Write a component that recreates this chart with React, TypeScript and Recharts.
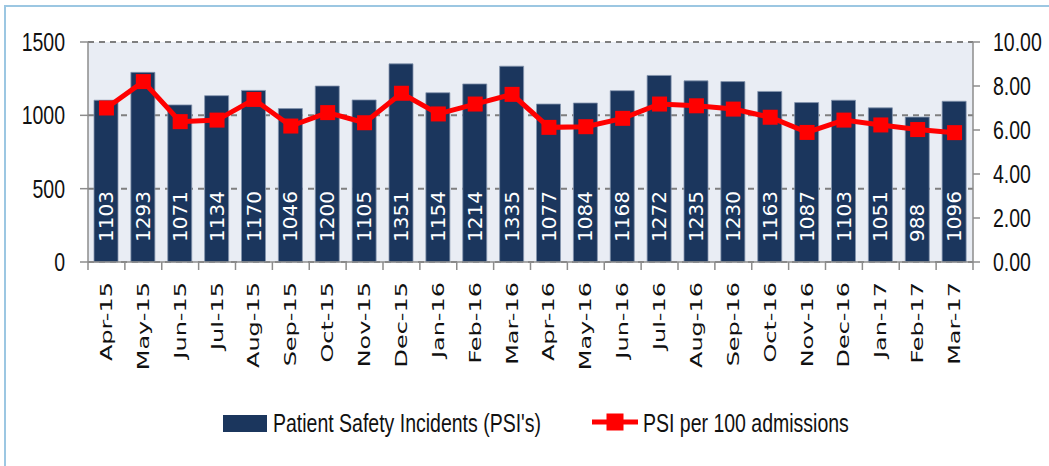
import { ComposedChart, Bar, Line, XAxis, YAxis, CartesianGrid, Legend, LabelList } from 'recharts';

const MONTHS = [
  'Apr-15', 'May-15', 'Jun-15', 'Jul-15', 'Aug-15', 'Sep-15', 'Oct-15', 'Nov-15', 'Dec-15', 'Jan-16', 'Feb-16', 'Mar-16',
  'Apr-16', 'May-16', 'Jun-16', 'Jul-16', 'Aug-16', 'Sep-16', 'Oct-16', 'Nov-16', 'Dec-16', 'Jan-17', 'Feb-17', 'Mar-17',
];
const INCIDENTS = [
  1103, 1293, 1071, 1134, 1170, 1046, 1200, 1105, 1351, 1154, 1214, 1335,
  1077, 1084, 1168, 1272, 1235, 1230, 1163, 1087, 1103, 1051, 988, 1096,
];
const PSI_RATE = [
  7.0, 8.2, 6.38, 6.45, 7.39, 6.18, 6.79, 6.33, 7.67, 6.73, 7.18, 7.62,
  6.12, 6.15, 6.53, 7.18, 7.1, 6.95, 6.58, 5.89, 6.45, 6.23, 6.02, 5.88,
];
const LEFT_TICKS = [0, 500, 1000, 1500];
const RIGHT_TICKS = [0, 2, 4, 6, 8, 10];
const BAR_NAME = "Patient Safety Incidents (PSI's)";
const LINE_NAME = 'PSI per 100 admissions';

const data = MONTHS.map((month, i) => ({ month, incidents: INCIDENTS[i], rate: PSI_RATE[i] }));

const W = 1049;
const H = 466;
const PLOT_LEFT = 88;
const PLOT_RIGHT = 973;
const BAND = (PLOT_RIGHT - PLOT_LEFT) / MONTHS.length;
const AXIS = '#8c8c8c';
const NAVY = '#1b365d';
const RED = '#ff0000';
const NARROW = { fontFamily: '"Liberation Sans", Arial, sans-serif', fontSize: 25 };
const WIDE = '"DejaVu Sans", Verdana, sans-serif';

function MonthTick({ x, y, payload, index }: any) {
  const half = BAND / 2;
  return (
    <g>
      <line x1={x - half} x2={x - half} y1={y} y2={y + 8} stroke={AXIS} strokeWidth={1.5} />
      {index === MONTHS.length - 1 && (
        <line x1={x + half} x2={x + half} y1={y} y2={y + 8} stroke={AXIS} strokeWidth={1.5} />
      )}
      <text
        transform={`translate(${x},${y + 20}) rotate(-90) scale(1.5,1)`}
        textAnchor="end"
        dominantBaseline="central"
        fontFamily={WIDE}
        fontSize={16}
        fill="#111"
      >
        {payload.value}
      </text>
    </g>
  );
}

function LeftTick({ x, y, payload }: any) {
  return (
    <g transform={`translate(${x - 15},${y + 9}) scale(0.78,1)`}>
      <text textAnchor="end" {...NARROW} fill="#111">{payload.value}</text>
    </g>
  );
}

function RightTick({ x, y, payload }: any) {
  return (
    <g transform={`translate(${x + 13},${y + 9}) scale(0.78,1)`}>
      <text textAnchor="start" {...NARROW} fill="#111">{Number(payload.value).toFixed(2)}</text>
    </g>
  );
}

function BarValue({ x, y, width, height, value }: any) {
  const cx = x + width / 2;
  const bottom = y + height - 20;
  return (
    <text
      transform={`translate(${cx},${bottom}) rotate(-90)`}
      textAnchor="start"
      dominantBaseline="central"
      fontFamily={WIDE}
      fontSize={20}
      fill="#fff"
    >
      {value}
    </text>
  );
}

function SquareDot({ cx, cy }: any) {
  if (cx == null || cy == null) return null;
  return <rect x={cx - 7.5} y={cy - 7.5} width={15} height={15} fill={RED} />;
}

function LegendBox({ payload }: any) {
  const items = payload || [];
  const barItem = items.find((p: any) => p.dataKey === 'incidents');
  const lineItem = items.find((p: any) => p.dataKey === 'rate');
  return (
    <svg width={W} height={40} style={{ display: 'block' }}>
      <rect x={223} y={12} width={44} height={17} fill={NAVY} />
      <g transform="translate(273,29) scale(0.78,1)">
        <text {...NARROW} fill="#111">{barItem ? barItem.value : BAR_NAME}</text>
      </g>
      <line x1={592} x2={638} y1={19} y2={19} stroke={RED} strokeWidth={5} />
      <rect x={606.5} y={10.5} width={17} height={17} fill={RED} />
      <g transform="translate(643,29) scale(0.78,1)">
        <text {...NARROW} fill="#111">{lineItem ? lineItem.value : LINE_NAME}</text>
      </g>
    </svg>
  );
}

export default function App() {
  return (
    <div style={{ position: 'absolute', left: 0, top: 0, width: W, height: H, overflow: 'hidden', background: '#fff' }}>
      <div
        style={{
          position: 'absolute', left: 4, top: 5, width: W + 100, height: H + 100,
          border: '2px solid #9cc7e2', boxSizing: 'border-box',
        }}
      />
      <div style={{ position: 'absolute', left: 0, top: 0 }}>
        <ComposedChart width={W} height={H} data={data} margin={{ top: 42, right: 0, bottom: 23, left: 0 }}>
          <CartesianGrid
            yAxisId="left"
            vertical={false}
            fill="#e9edf4"
            fillOpacity={1}
            stroke="#7f7f7f"
            strokeWidth={2}
            strokeDasharray="6 5"
          />
          <XAxis
            dataKey="month"
            interval={0}
            height={141}
            tickSize={0}
            tickMargin={0}
            tickLine={false}
            axisLine={{ stroke: AXIS, strokeWidth: 1.5 }}
            tick={<MonthTick />}
          />
          <YAxis
            yAxisId="left"
            width={88}
            domain={[0, 1500]}
            ticks={LEFT_TICKS}
            tickSize={8}
            tickMargin={0}
            tickLine={{ stroke: AXIS, strokeWidth: 1.5 }}
            axisLine={{ stroke: AXIS, strokeWidth: 1.5 }}
            tick={<LeftTick />}
          />
          <YAxis
            yAxisId="right"
            orientation="right"
            width={76}
            domain={[0, 10]}
            ticks={RIGHT_TICKS}
            tickSize={7}
            tickMargin={0}
            tickLine={{ stroke: AXIS, strokeWidth: 1.5 }}
            axisLine={{ stroke: AXIS, strokeWidth: 1.5 }}
            tick={<RightTick />}
          />
          <Legend verticalAlign="bottom" content={<LegendBox />} wrapperStyle={{ left: 0, width: W }} />
          <Bar
            yAxisId="left"
            dataKey="incidents"
            name={BAR_NAME}
            barSize={24}
            fill={NAVY}
            stroke="#8596ae"
            strokeWidth={0.8}
            isAnimationActive={false}
          >
            <LabelList dataKey="incidents" content={<BarValue />} />
          </Bar>
          <Line
            yAxisId="right"
            dataKey="rate"
            name={LINE_NAME}
            type="linear"
            stroke={RED}
            strokeWidth={5}
            dot={<SquareDot />}
            activeDot={false}
            isAnimationActive={false}
          />
        </ComposedChart>
      </div>
    </div>
  );
}
